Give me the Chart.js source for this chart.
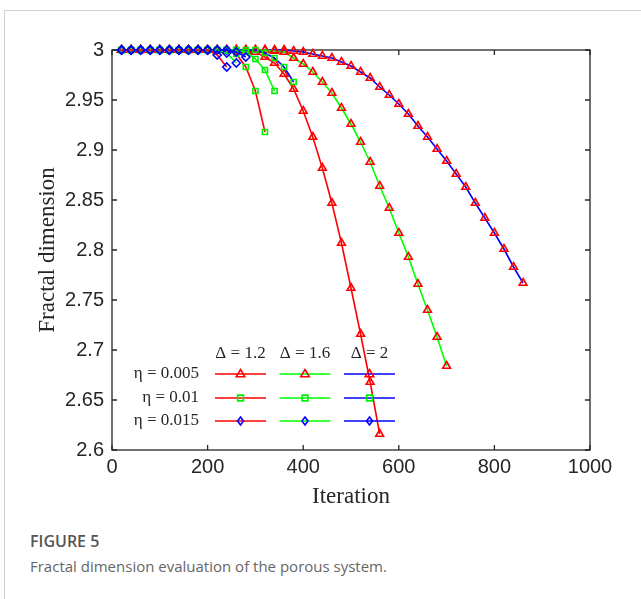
<!DOCTYPE html>
<html lang="en">
<head>
  <meta charset="UTF-8" />
  <title>Fractal dimension evaluation</title>
  <script src="https://cdn.jsdelivr.net/npm/chart.js"></script>
  <style>
    body { margin: 0; background: #fff; width: 641px; height: 599px; overflow: hidden; position: relative; }
    #frame { position: absolute; left: 4px; top: 10px; right: 0; bottom: 0; border-left: 1px solid #d0d0d0; border-top: 1px solid #d0d0d0; }
    #chartBox { position: absolute; left: 0; top: 0; width: 641px; height: 520px; }
    .fig-no { position: absolute; left: 30px; top: 531px; font: 600 16px 'Open Sans', sans-serif; line-height: 20px; color: #555; }
    .fig-cap { position: absolute; left: 30px; top: 556px; font: 15px 'Open Sans', sans-serif; line-height: 20px; color: #666; }
  </style>
</head>
<body>
<div id="frame"></div>
<div id="chartBox"><canvas id="fractalChart" width="641" height="520"></canvas></div>
<div class="fig-no">FIGURE 5</div>
<div class="fig-cap">Fractal dimension evaluation of the porous system.</div>

<script>
  // iteration numbers (x) shared by every curve, one point every 20 iterations
  const iterations = [20, 40, 60, 80, 100, 120, 140, 160, 180, 200, 220, 240, 260, 280, 300, 320, 340, 360,
    380, 400, 420, 440, 460, 480, 500, 520, 540, 560, 580, 600, 620, 640, 660, 680, 700, 720, 740, 760,
    780, 800, 820, 840, 860];

  // eta = 0.005 (triangles)
  const triD12 = [3, 3, 3, 3, 3, 3, 3, 3, 3, 3, 3, 3, 3, 2.999, 2.998, 2.993, 2.987, 2.976, 2.961, 2.939,
    2.913, 2.882, 2.847, 2.807, 2.762, 2.716, 2.668, 2.616];
  const triD16 = [3, 3, 3, 3, 3, 3, 3, 3, 3, 3, 3, 3, 3, 3, 3, 3, 2.999, 2.998, 2.992, 2.986, 2.978, 2.968,
    2.957, 2.942, 2.926, 2.908, 2.888, 2.864, 2.842, 2.817, 2.793, 2.766, 2.740, 2.713, 2.684];
  const triD2 = [3, 3, 3, 3, 3, 3, 3, 3, 3, 3, 3, 3, 3, 3, 3, 3, 3, 3, 2.999, 2.998, 2.996, 2.994, 2.992,
    2.988, 2.984, 2.978, 2.972, 2.963, 2.955, 2.946, 2.936, 2.924, 2.913, 2.901, 2.889, 2.876, 2.863,
    2.847, 2.832, 2.817, 2.801, 2.783, 2.767];

  // eta = 0.01 (squares)
  const sqD12 = [3, 3, 3, 3, 3, 3, 3, 3, 3, 3, 3, 3, 2.996, 2.983, 2.959, 2.918];
  const sqD16 = [3, 3, 3, 3, 3, 3, 3, 3, 3, 3, 3, 3, 3, 2.998, 2.991, 2.980, 2.959];
  const sqD2 = [3, 3, 3, 3, 3, 3, 3, 3, 3, 3, 3, 3, 3, 3, 3, 2.997, 2.992, 2.983, 2.968];

  // eta = 0.015 (diamonds)
  const diaD12 = [3, 3, 3, 3, 3, 3, 3, 3, 3, 3, 2.995, 2.983];
  const diaD16 = [3, 3, 3, 3, 3, 3, 3, 3, 3, 3, 3, 2.997, 2.987];
  const diaD2 = [3, 3, 3, 3, 3, 3, 3, 3, 3, 3, 3, 3, 2.998, 2.993];

  const xTicks = [0, 200, 400, 600, 800, 1000];
  const yTicks = [2.6, 2.65, 2.7, 2.75, 2.8, 2.85, 2.9, 2.95, 3];

  const deltaLabels = ['\u0394 = 1.2', '\u0394 = 1.6', '\u0394 = 2'];
  const etaLabels = ['\u03b7 = 0.005', '\u03b7 = 0.01', '\u03b7 = 0.015'];

  const lineColors = ['#ff0000', '#00ff00', '#0000ff'];
  const markers = [
    { style: 'triangle', color: '#ff0000', r: 4.5 },
    { style: 'rect', color: '#00ee00', r: 3.6 },
    { style: 'rectRot', color: '#0000ff', r: 4 }
  ];

  const AXIS_COLOR = '#262626';

  function series(values, lineIdx, markIdx) {
    const m = markers[markIdx];
    return {
      data: values.map((v, i) => ({ x: iterations[i], y: v })),
      borderColor: lineColors[lineIdx],
      borderWidth: 1.6,
      pointStyle: m.style,
      pointRadius: m.r,
      pointBorderColor: m.color,
      pointBackgroundColor: 'rgba(0,0,0,0)',
      pointBorderWidth: 1.6,
      tension: 0,
      clip: false
    };
  }

  function drawMarker(ctx, style, color, x, y, r) {
    ctx.beginPath();
    if (style === 'triangle') {
      ctx.moveTo(x, y - r);
      ctx.lineTo(x + r * 0.95, y + r * 0.6);
      ctx.lineTo(x - r * 0.95, y + r * 0.6);
      ctx.closePath();
    } else if (style === 'rect') {
      ctx.rect(x - r * 0.8, y - r * 0.8, r * 1.6, r * 1.6);
    } else {
      ctx.moveTo(x, y - r);
      ctx.lineTo(x + r * 0.75, y);
      ctx.lineTo(x, y + r);
      ctx.lineTo(x - r * 0.75, y);
      ctx.closePath();
    }
    ctx.strokeStyle = color;
    ctx.lineWidth = 1.6;
    ctx.stroke();
  }

  // box around the plot with inward tick marks on all four sides
  const boxPlugin = {
    id: 'boxPlugin',
    beforeDatasetsDraw(chart) {
      const { ctx, chartArea: a, scales: { x, y } } = chart;
      ctx.save();
      ctx.strokeStyle = AXIS_COLOR;
      ctx.lineWidth = 1.3;
      ctx.strokeRect(a.left, a.top, a.width, a.height);
      ctx.beginPath();
      xTicks.forEach(v => {
        const px = x.getPixelForValue(v);
        ctx.moveTo(px, a.bottom); ctx.lineTo(px, a.bottom - 5);
        ctx.moveTo(px, a.top); ctx.lineTo(px, a.top + 5);
      });
      yTicks.forEach(v => {
        const py = y.getPixelForValue(v);
        ctx.moveTo(a.left, py); ctx.lineTo(a.left + 5, py);
        ctx.moveTo(a.right, py); ctx.lineTo(a.right - 5, py);
      });
      ctx.stroke();
      ctx.restore();
    }
  };

  // legend laid out as a table: rows = eta (marker), columns = delta (line colour)
  const tableLegend = {
    id: 'tableLegend',
    afterDatasetsDraw(chart) {
      const { ctx, chartArea: a } = chart;
      const colX = [128.5, 193, 257.5].map(d => a.left + d);
      const rowY = [324, 348, 371].map(d => a.top + d);
      ctx.save();
      ctx.font = '17px "Liberation Serif", "Times New Roman", serif';
      ctx.fillStyle = AXIS_COLOR;
      ctx.textBaseline = 'middle';
      ctx.textAlign = 'center';
      deltaLabels.forEach((t, i) => ctx.fillText(t, colX[i], a.top + 304));
      ctx.textAlign = 'right';
      etaLabels.forEach((t, j) => ctx.fillText(t, a.left + 87, rowY[j]));
      lineColors.forEach((c, i) => {
        markers.forEach((m, j) => {
          ctx.beginPath();
          ctx.moveTo(colX[i] - 25.5, rowY[j]);
          ctx.lineTo(colX[i] + 25.5, rowY[j]);
          ctx.strokeStyle = c;
          ctx.lineWidth = 1.6;
          ctx.stroke();
          drawMarker(ctx, m.style, m.color, colX[i], rowY[j], m.r);
        });
      });
      ctx.restore();
    }
  };

  const tickFont = { family: 'Arial, "Liberation Sans", sans-serif', size: 20 };
  const titleFont = { family: '"Liberation Serif", "Times New Roman", serif', size: 23 };

  new Chart(document.getElementById('fractalChart'), {
    type: 'line',
    data: {
      datasets: [
        series(diaD12, 0, 2), series(diaD16, 1, 2), series(diaD2, 2, 2),
        series(sqD12, 0, 1), series(sqD16, 1, 1), series(sqD2, 2, 1),
        series(triD12, 0, 0), series(triD16, 1, 0), series(triD2, 2, 0)
      ]
    },
    options: {
      responsive: false,
      animation: false,
      layout: { padding: { left: 30, top: 50, right: 51, bottom: 0 } },
      plugins: { legend: { display: false }, tooltip: { enabled: false } },
      scales: {
        x: {
          type: 'linear',
          min: 0, max: 1000,
          grid: { display: false, drawTicks: false },
          border: { display: false },
          afterBuildTicks: axis => { axis.ticks = xTicks.map(v => ({ value: v })); },
          afterFit: axis => { axis.height = 70; },
          ticks: { autoSkip: false, maxRotation: 0, padding: 5, color: AXIS_COLOR, font: tickFont, callback: v => String(v) },
          title: { display: true, text: 'Iteration', color: AXIS_COLOR, font: titleFont, padding: { top: 0, bottom: 9 } }
        },
        y: {
          min: 2.6, max: 3,
          grid: { display: false, drawTicks: false },
          border: { display: false },
          afterBuildTicks: axis => { axis.ticks = yTicks.map(v => ({ value: v })); },
          afterFit: axis => { axis.width = 82; },
          ticks: {
            autoSkip: false, padding: 8, color: AXIS_COLOR, font: tickFont,
            callback: v => String(+v.toFixed(2))
          },
          title: { display: true, text: 'Fractal dimension', color: AXIS_COLOR, font: titleFont, padding: { top: 4, bottom: 0 } }
        }
      }
    },
    plugins: [boxPlugin, tableLegend]
  });
</script>
</body>
</html>
